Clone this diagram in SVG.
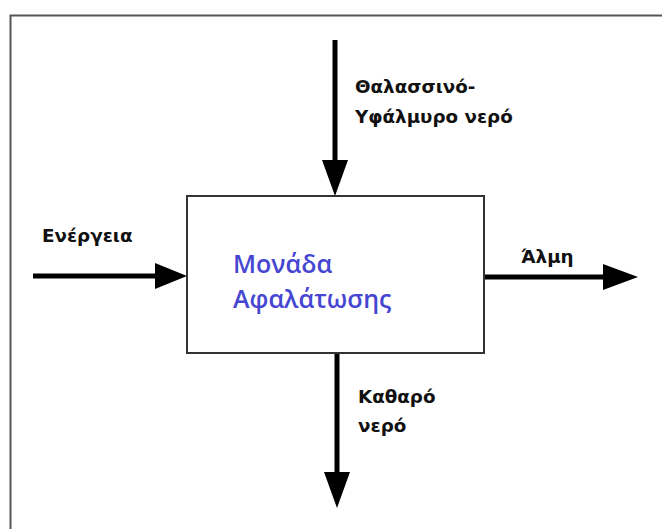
<svg xmlns="http://www.w3.org/2000/svg" width="662" height="529" viewBox="0 0 662 529">
<style>
.lbl{font-family:"DejaVu Sans","Verdana",sans-serif;font-weight:bold;font-size:18.3px;fill:#111}
.title{font-family:"Open Sans","Noto Sans",sans-serif;font-weight:600;font-size:25px;fill:#4646d2}
.shaft{stroke:#000;stroke-width:5;fill:none}
.head{fill:#000}
</style>
<rect width="662" height="529" fill="#fff"/>
<path d="M10.5,529 V15.5 H662" fill="none" stroke="#555" stroke-width="2"/>
<g id="connectors">
<line class="shaft" x1="335" y1="40" x2="335" y2="165"/>
<polygon class="head" points="322,160 348,160 335,196"/>
<line class="shaft" x1="33" y1="276" x2="160" y2="276"/>
<polygon class="head" points="155,263 155,289 187,276"/>
<line class="shaft" x1="484" y1="277" x2="608" y2="277"/>
<polygon class="head" points="603,264 603,290 638,277"/>
<line class="shaft" x1="337" y1="354" x2="337" y2="476"/>
<polygon class="head" points="324,472 350,472 337,508"/>
</g>
<g id="unit">
<rect x="187" y="196" width="297" height="157" fill="#fff" stroke="#333" stroke-width="2"/>
<text class="title" x="233" y="273">Μονάδα</text>
<text class="title" x="233" y="308">Αφαλάτωσης</text>
</g>
<g id="lbl-sea">
<text class="lbl" x="355" y="93">Θαλασσινό-</text>
<text class="lbl" x="355" y="123">Υφάλμυρο νερό</text>
</g>
<g id="lbl-energy"><text class="lbl" x="42" y="242">Ενέργεια</text></g>
<g id="lbl-brine"><text class="lbl" x="521" y="263">Άλμη</text></g>
<g id="lbl-fresh">
<text class="lbl" x="358" y="403">Καθαρό</text>
<text class="lbl" x="358" y="432">νερό</text>
</g>
</svg>
